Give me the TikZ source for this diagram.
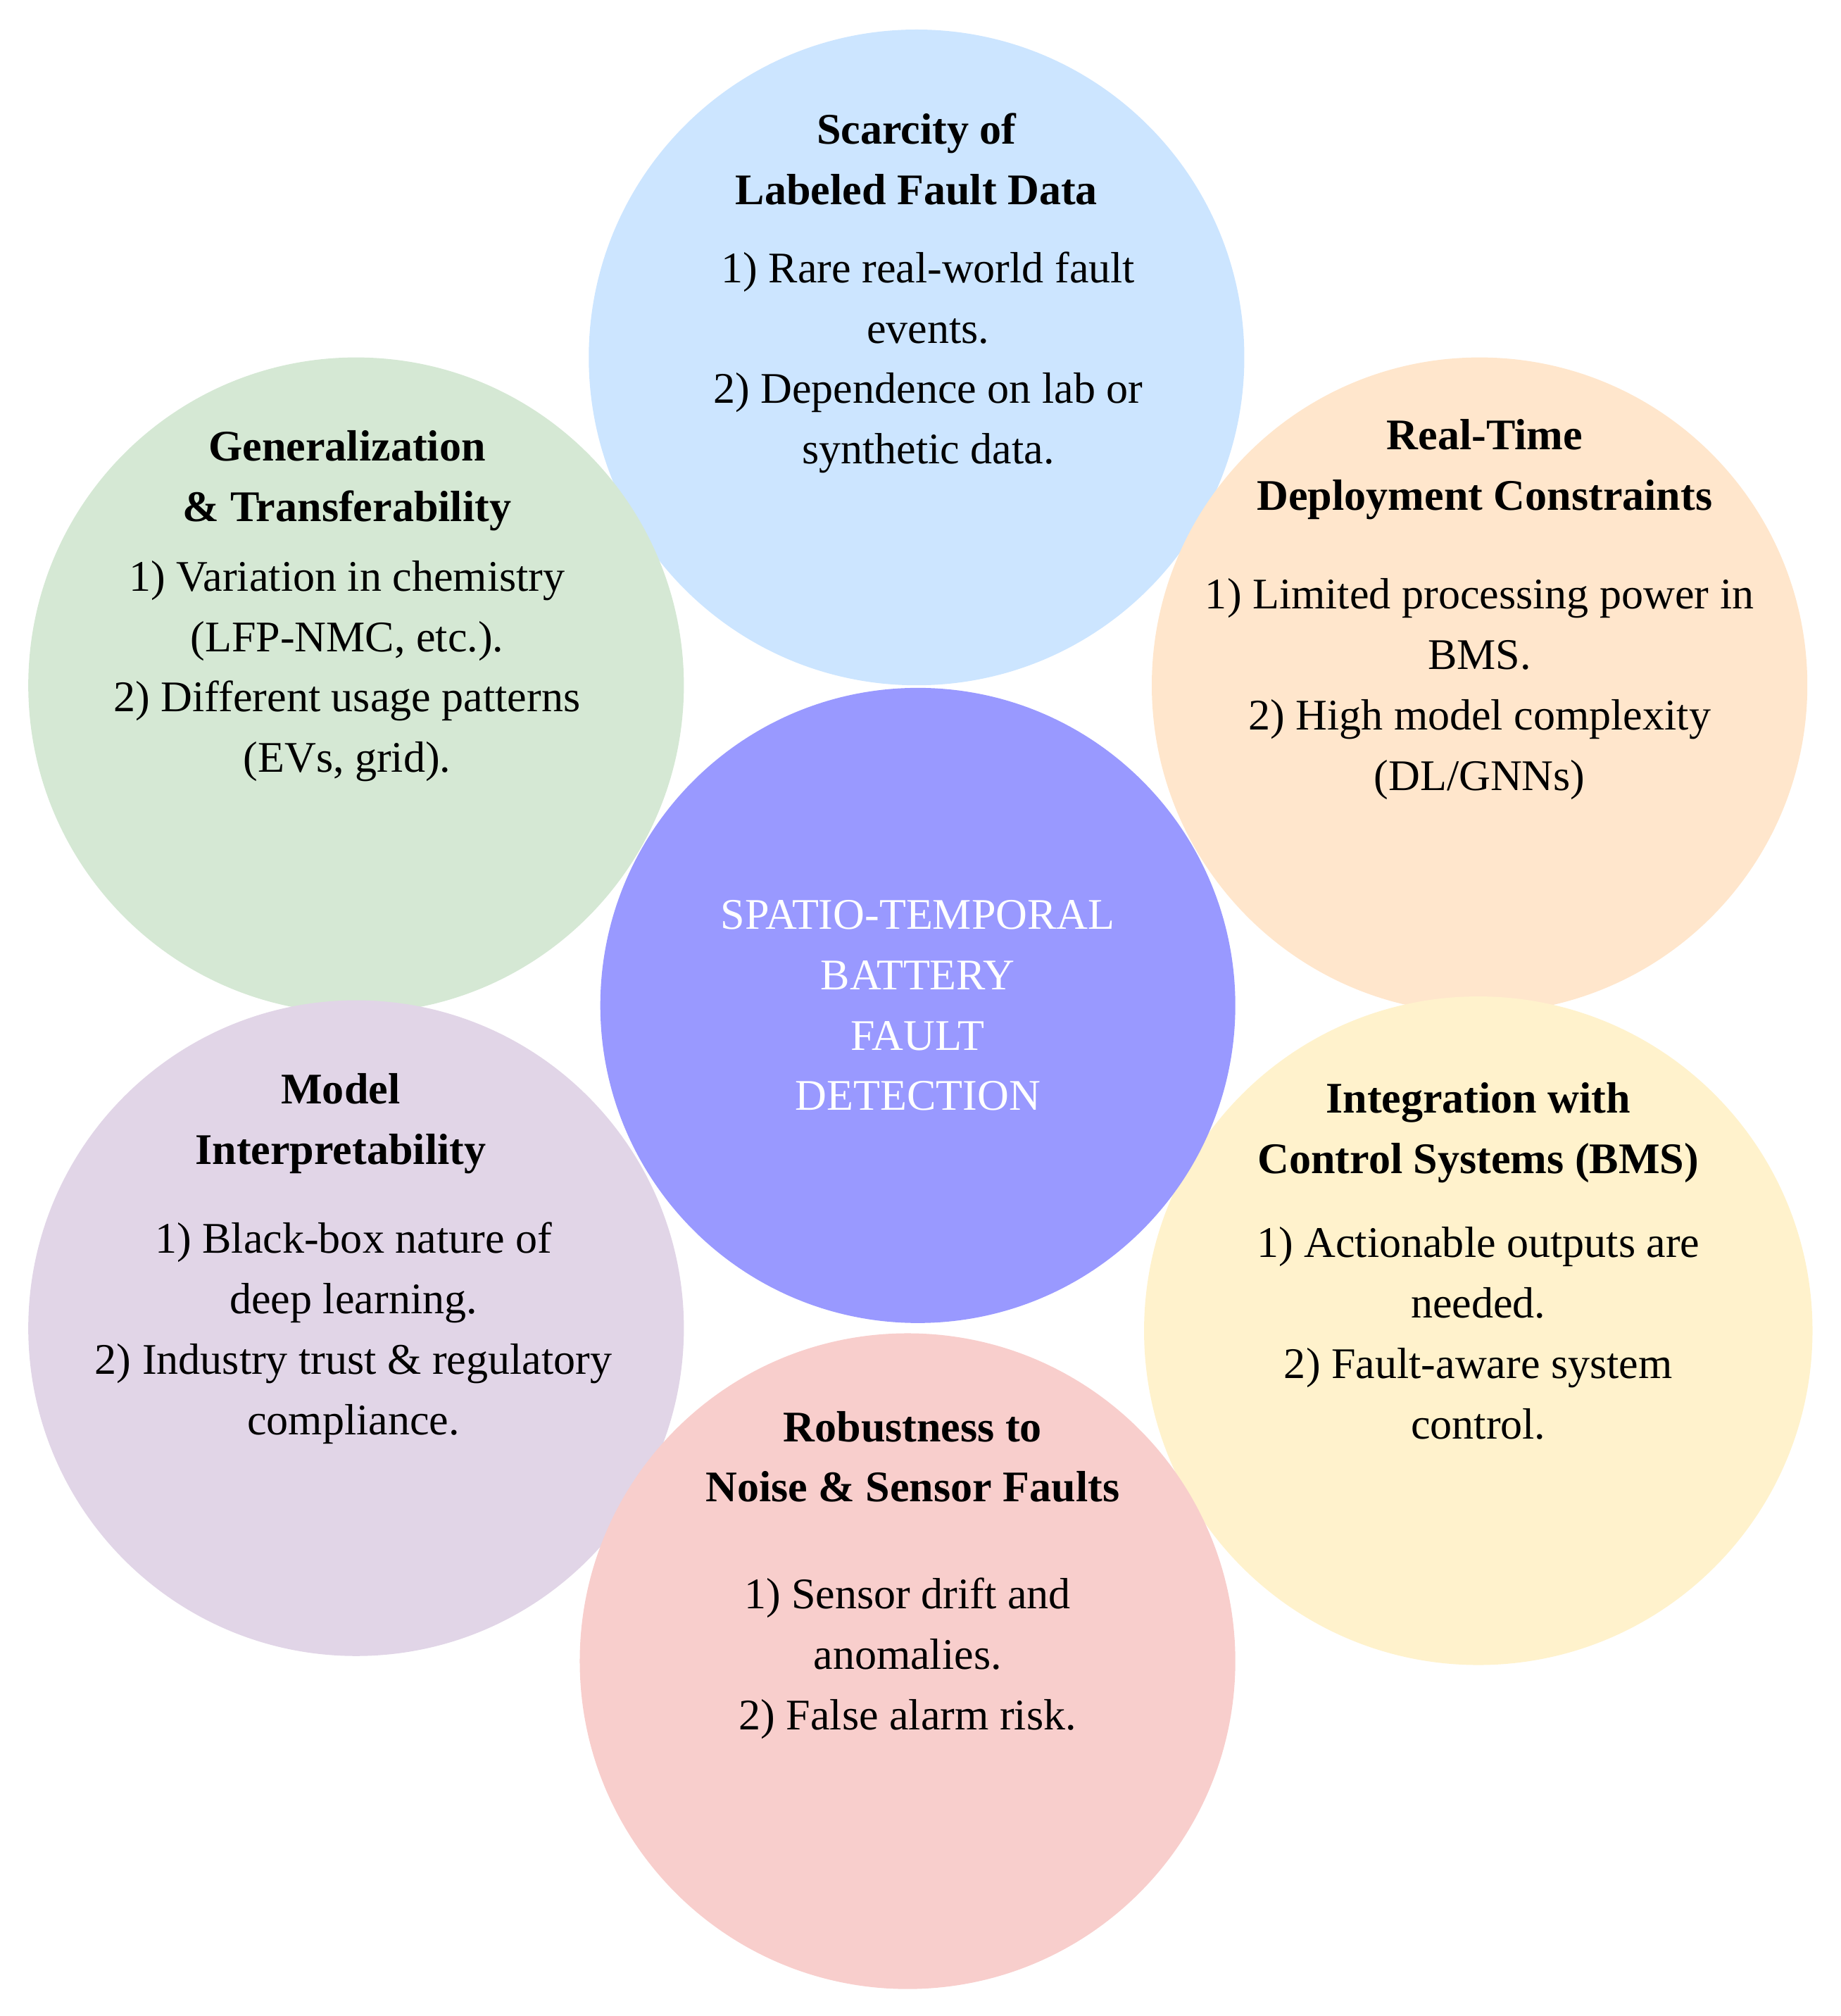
\documentclass[tikz,border=0pt]{standalone}
\usepackage{fontspec}
\setmainfont{Liberation Serif}
\definecolor{cblue}{HTML}{CCE5FF}
\definecolor{cgreen}{HTML}{D5E8D4}
\definecolor{corange}{HTML}{FFE6CC}
\definecolor{cpurple}{HTML}{E1D5E7}
\definecolor{cyellow}{HTML}{FFF2CC}
\definecolor{cred}{HTML}{F8CECC}
\definecolor{ccenter}{HTML}{9999FF}
\begin{document}
\begin{tikzpicture}[x=0.5pt,y=-0.5pt,
  blob/.style={circle,draw=none,inner sep=0pt,minimum size=255pt},
  ttl/.style={align=center,font=\fontsize{17}{23.5}\selectfont\bfseries,inner sep=0pt},
  body/.style={align=center,font=\fontsize{17}{23.5}\selectfont,inner sep=0pt}]
\useasboundingbox (0,0) rectangle (1432,1568);
\node[blob,fill=cblue] (top) at (713,278) {};
\node[blob,fill=cgreen] (gen) at (277,533) {};
\node[blob,fill=corange] (rt) at (1151,533) {};
\node[blob,fill=cpurple] (mi) at (277,1033) {};
\node[blob,fill=cyellow,minimum size=260pt] (int) at (1150,1035) {};
\node[blob,fill=cred] (rob) at (706,1292) {};
\node[blob,fill=ccenter,minimum size=247pt] (ctr) at (714,782) {};
\node[body,text=white] (ctrt) at (ctr) {SPATIO-TEMPORAL\\BATTERY\\FAULT\\DETECTION};
\node[ttl] (topt) at (713,124) {Scarcity of\\Labeled Fault Data};
\node[body] (topb) at (722,282) {1) Rare real-world fault\\events.\\2) Dependence on lab or\\synthetic data.};
\node[ttl] (gent) at (270,374) {Generalization\\\& Transferability};
\node[body] (genb) at (270,522) {1) Variation in chemistry\\(LFP-NMC, etc.).\\2) Different usage patterns\\(EVs, grid).};
\node[ttl] (rtt) at (1155,365) {Real-Time\\Deployment Constraints};
\node[body] (rtb) at (1151,536) {1) Limited processing power in\\BMS.\\2) High model complexity\\(DL/GNNs)};
\node[ttl] (mit) at (265,874) {Model\\Interpretability};
\node[body] (mib) at (275,1037) {1) Black-box nature of\\deep learning.\\2) Industry trust \& regulatory\\compliance.};
\node[ttl] (intt) at (1150,881) {Integration with\\Control Systems (BMS)};
\node[body] (intb) at (1150,1037) {1) Actionable outputs are\\needed.\\2) Fault-aware system\\control.};
\node[ttl] (robt) at (710,1133) {Robustness to\\Noise \& Sensor Faults};
\node[body] (robb) at (706,1290) {1) Sensor drift and\\anomalies.\\2) False alarm risk.};
\end{tikzpicture}
\end{document}
